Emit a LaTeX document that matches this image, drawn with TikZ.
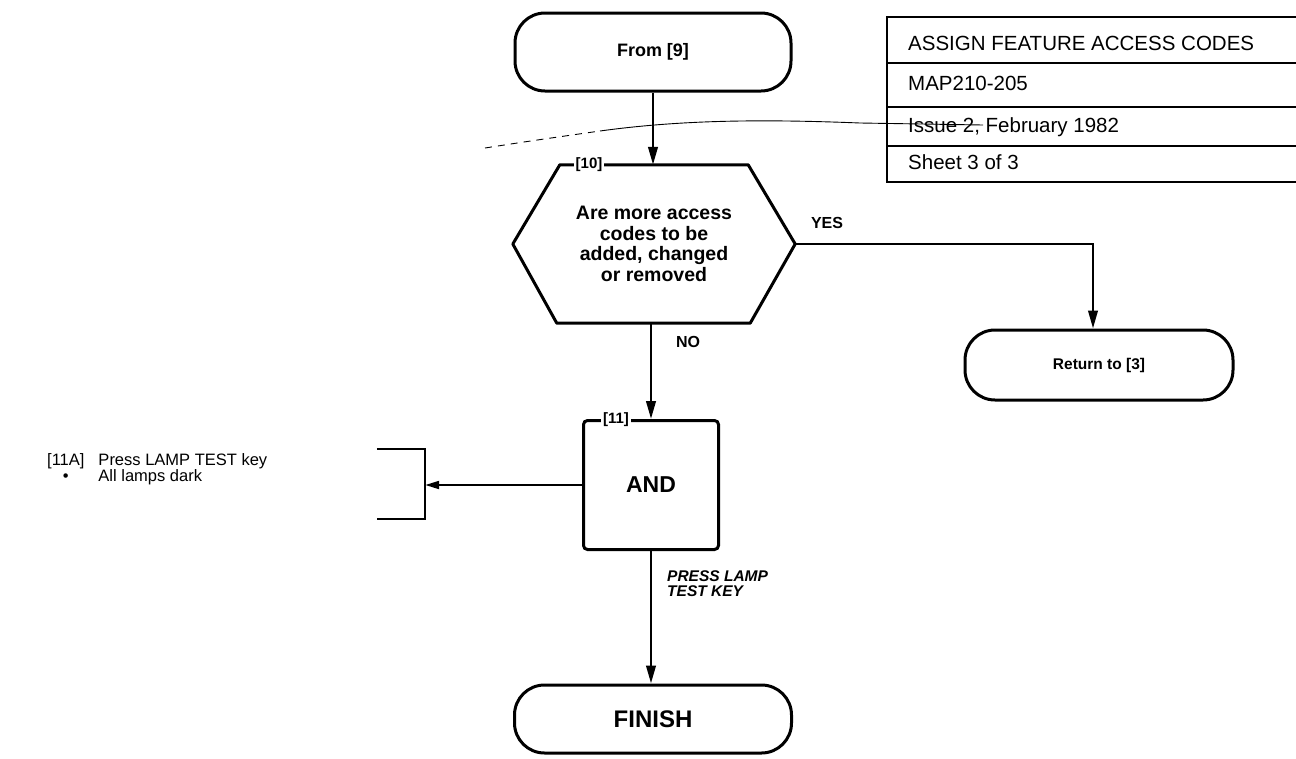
\documentclass[tikz,border=0pt]{standalone}
\usepackage{fontspec}
\setmainfont{Liberation Sans}
\usetikzlibrary{arrows.meta,calc}
\begin{document}
\begin{tikzpicture}[x=1pt,y=-1pt,
  thickline/.style={line width=3pt},
  term/.style={draw,line width=3pt,rounded corners=30pt,inner sep=0pt,align=center},
  arr/.style={line width=2.6pt,-{Triangle[length=18pt,width=9.5pt]}},
  lbl/.style={font=\bfseries\fontsize{16}{18}\selectfont},
  tag/.style={fill=white,inner sep=2pt,font=\bfseries\fontsize{15}{15}\selectfont},
  tabtext/.style={anchor=base west,inner sep=0pt,font=\fontsize{20.5}{22}\selectfont},
  tabline/.style={line width=1.8pt}
]
\useasboundingbox (0,0) rectangle (1296,758);

% terminals
\node[term,minimum width=276pt,minimum height=78pt,font=\bfseries\fontsize{18}{20}\selectfont] (from) at (653,52) {From [9]};
\node[term,minimum width=268pt,minimum height=70pt,font=\bfseries\fontsize{15.5}{18}\selectfont] (ret) at (1099,365) {Return to [3]};
\node[term,minimum width=277pt,minimum height=68pt,font=\bfseries\fontsize{24}{26}\selectfont] (finish) at (653,719) {FINISH};

% decision hexagon
\node[minimum width=282pt,minimum height=158pt,inner sep=0pt,align=center,
      font=\bfseries\fontsize{19.5}{20.5}\selectfont] (hex) at (654,244)
      {Are more access\\codes to be\\added, changed\\or removed};
\draw[thickline,line join=round] (hex.west) -- ($(hex.north west)+(47,0)$) -- ($(hex.north east)+(-47,0)$)
   -- (hex.east) -- ($(hex.south east)+(-45,0)$) -- ($(hex.south west)+(44,0)$) -- cycle;
\node[tag] (t10) at (589,165) {[10]};

% AND box
\node[draw,line width=3pt,rounded corners=4pt,minimum width=135pt,minimum height=129pt,
      font=\bfseries\fontsize{23}{25}\selectfont] (and) at (651,485) {AND};
\node[tag] (t11) at (616,420) {[11]};

% bracket
\node[minimum width=48pt,minimum height=70pt,inner sep=0pt] (brk) at (401,484) {};
\draw[line width=2.4pt] (brk.north west) -- (brk.north east) -- (brk.south east) -- (brk.south west);

% note
\node[anchor=west,inner sep=0pt,font=\fontsize{16.5}{14.5}\selectfont] (note) at (47,470)
  {\begin{tabular}{@{}c@{\hspace{14pt}}l@{}}[11A] & Press LAMP TEST key\\ \textbullet & All lamps dark\end{tabular}};

% connectors
\draw[arr] (from.south) -- (hex.north -| from.south);
\draw[arr] (hex.south -| and.north) -- (and.north);
\draw[arr] (and.south) -- (and.south |- finish.north);
\draw[line width=2.4pt,-{Triangle[length=18pt,width=9.5pt]}] (hex.east) -| ([xshift=-6pt]ret.north);
\draw[line width=2pt,-{Triangle[length=14pt,width=8pt]}] (and.west) -- (and.west -| brk.east);

% labels
\node[lbl] (yes) at (827,223) {YES};
\node[lbl] (no) at (688,342) {NO};
\node[anchor=west,inner sep=0pt,align=left,font=\bfseries\itshape\fontsize{15.5}{15}\selectfont] (press) at (667,584) {PRESS LAMP\\TEST KEY};

% title block
\draw[tabline] (1300,17) -- (887,17) -- (887,182) -- (1300,182);
\draw[tabline] (887,63) -- (1300,63);
\draw[tabline] (887,107) -- (1300,107);
\draw[tabline] (887,146) -- (1300,146);
\node[tabtext] (r1) at (908,50) {ASSIGN FEATURE ACCESS CODES};
\node[tabtext] (r2) at (908,90) {MAP210-205};
\node[tabtext] (r3) at (908,132) {Issue 2, February 1982};
\node[tabtext] (r4) at (908,169) {Sheet 3 of 3};

% thin revision curve
\draw[line width=0.9pt,dash pattern=on 7pt off 6pt] (485,148) .. controls (530,141) .. (600,131);
\draw[line width=0.9pt] (600,131) .. controls (680,120) and (760,119) .. (860,123) -- (983,125);
\end{tikzpicture}
\end{document}
